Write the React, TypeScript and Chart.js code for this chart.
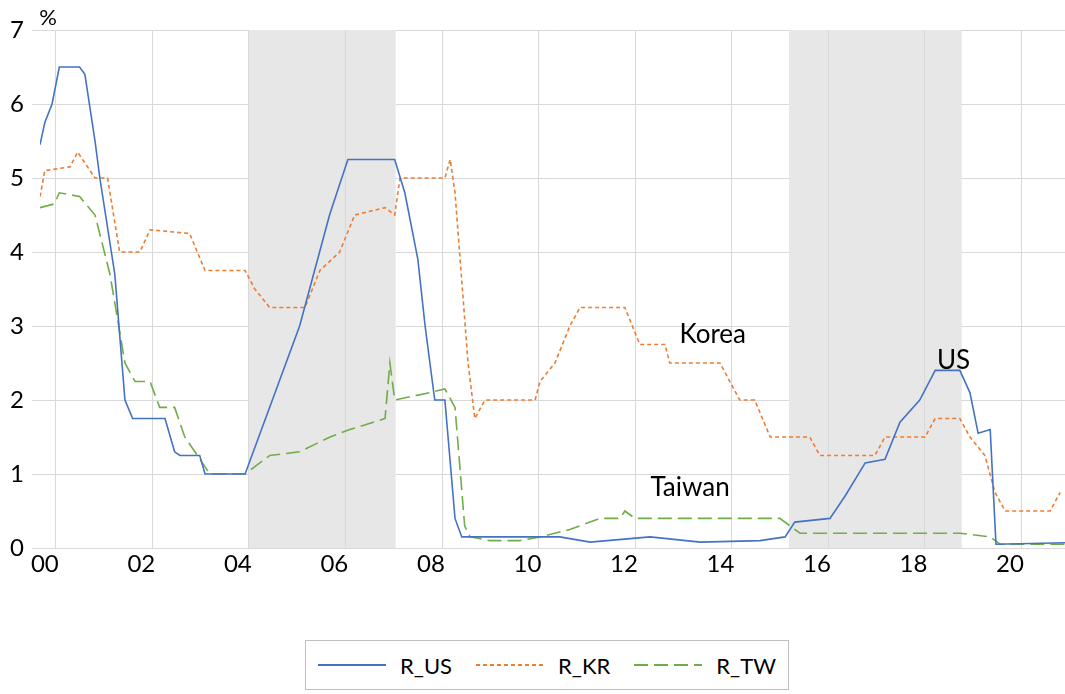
import { useEffect, useRef } from "react";
import { Chart, registerables } from "chart.js";

Chart.register(...registerables);

// breakpoints (year, %)
const usYears = [1999.9, 2000, 2000.15, 2000.3, 2000.5, 2000.72, 2000.83, 2001.04, 2001.14, 2001.45, 2001.66, 2001.82, 2002.49, 2002.69, 2002.8, 2003.21, 2003.32, 2004.15, 2005.28, 2005.9, 2006.28, 2007.25, 2007.46, 2007.73, 2007.88, 2008.08, 2008.29, 2008.5, 2008.64, 2009.43, 2009.84, 2010.67, 2011.3, 2012.54, 2013.58, 2014.82, 2015.34, 2015.54, 2016.27, 2016.58, 2017.0, 2017.41, 2017.72, 2018.13, 2018.45, 2018.96, 2019.17, 2019.34, 2019.59, 2019.71, 2021.14];
const usRate = [5.45, 5.75, 6.0, 6.5, 6.5, 6.5, 6.4, 5.5, 5.0, 3.7, 2.0, 1.75, 1.75, 1.3, 1.25, 1.25, 1.0, 1.0, 3.0, 4.5, 5.25, 5.25, 4.8, 3.9, 3.0, 2.0, 2.0, 0.4, 0.15, 0.15, 0.15, 0.15, 0.08, 0.15, 0.08, 0.1, 0.15, 0.35, 0.4, 0.7, 1.15, 1.2, 1.7, 2.0, 2.4, 2.4, 2.1, 1.55, 1.6, 0.05, 0.07];

const krYears = [1999.9, 2000, 2000.52, 2000.68, 2001.04, 2001.3, 2001.55, 2001.97, 2002.18, 2003.0, 2003.32, 2004.15, 2004.35, 2004.66, 2005.39, 2005.7, 2006.11, 2006.42, 2007.05, 2007.25, 2007.36, 2008.29, 2008.4, 2008.5, 2008.77, 2008.91, 2009.12, 2010.16, 2010.26, 2010.57, 2010.88, 2011.09, 2012.02, 2012.33, 2012.85, 2012.95, 2013.99, 2014.4, 2014.71, 2015.03, 2015.85, 2016.06, 2017.2, 2017.41, 2018.24, 2018.45, 2018.96, 2019.17, 2019.48, 2019.69, 2019.9, 2020.83, 2021.04];
const krRate = [4.75, 5.1, 5.15, 5.35, 5.0, 5.0, 4.0, 4.0, 4.3, 4.25, 3.75, 3.75, 3.5, 3.25, 3.25, 3.75, 4.0, 4.5, 4.6, 4.5, 5.0, 5.0, 5.25, 4.8, 2.5, 1.75, 2.0, 2.0, 2.25, 2.5, 3.0, 3.25, 3.25, 2.75, 2.75, 2.5, 2.5, 2.0, 2.0, 1.5, 1.5, 1.25, 1.25, 1.5, 1.5, 1.75, 1.75, 1.5, 1.25, 0.75, 0.5, 0.5, 0.75];

const twYears = [1999.9, 2000.2, 2000.3, 2000.72, 2001.04, 2001.35, 2001.66, 2001.87, 2002.18, 2002.38, 2002.69, 2002.9, 2003.11, 2003.42, 2004.15, 2004.66, 2005.28, 2005.91, 2006.32, 2007.05, 2007.15, 2007.25, 2007.98, 2008.29, 2008.5, 2008.7, 2008.81, 2009.22, 2009.84, 2010.26, 2010.88, 2011.5, 2011.92, 2012.02, 2012.23, 2015.23, 2015.65, 2018.96, 2019.59, 2019.8, 2021.14];
const twRate = [4.6, 4.65, 4.8, 4.75, 4.5, 3.7, 2.5, 2.25, 2.25, 1.9, 1.9, 1.5, 1.3, 1.0, 1.0, 1.25, 1.3, 1.5, 1.6, 1.75, 2.5, 2.0, 2.1, 2.15, 1.9, 0.3, 0.15, 0.1, 0.1, 0.15, 0.25, 0.4, 0.4, 0.5, 0.4, 0.4, 0.2, 0.2, 0.15, 0.05, 0.05];

const tickYears = [2000, 2002, 2004, 2006, 2008, 2010, 2012, 2014, 2016, 2018, 2020];
const shadeStart = [2004.23, 2015.42];
const shadeEnd = [2007.27, 2019.0];
const labelText = ["Korea", "US", "Taiwan"];
const labelX = [2013.84, 2018.83, 2013.37];
const labelY = [2.88, 2.53, 0.81];

const FONT = "Lato, 'Open Sans', sans-serif";

const pts = (xs: number[], ys: number[]) => xs.map((x, i) => ({ x, y: ys[i] }));

const overlay = {
  id: "overlay",
  beforeDatasetsDraw(chart: any) {
    const { ctx, chartArea, scales } = chart;
    ctx.save();
    ctx.fillStyle = "#e7e7e7";
    shadeStart.forEach((s, i) => {
      const a = scales.x.getPixelForValue(s);
      const b = scales.x.getPixelForValue(shadeEnd[i]);
      ctx.fillRect(a, chartArea.top, b - a, chartArea.bottom - chartArea.top);
    });
    ctx.strokeStyle = "#d9d9d9";
    ctx.lineWidth = 1;
    tickYears.forEach((t) => {
      const x = Math.round(scales.x.getPixelForValue(t + 0.22)) + 0.5;
      ctx.beginPath();
      ctx.moveTo(x, chartArea.top);
      ctx.lineTo(x, chartArea.bottom);
      ctx.stroke();
    });
    ctx.restore();
  },
  afterDatasetsDraw(chart: any) {
    const { ctx, scales } = chart;
    ctx.save();
    ctx.fillStyle = "#000";
    ctx.font = `26px ${FONT}`;
    ctx.textAlign = "center";
    ctx.textBaseline = "middle";
    labelText.forEach((t, i) => {
      ctx.fillText(t, scales.x.getPixelForValue(labelX[i]), scales.y.getPixelForValue(labelY[i]));
    });
    ctx.font = `22px ${FONT}`;
    ctx.fillText("%", 48, 18);
    ctx.restore();
  },
};

export default function App() {
  const ref = useRef<HTMLCanvasElement | null>(null);

  useEffect(() => {
    if (!ref.current) return;
    const chart = new Chart(ref.current, {
      type: "line",
      data: {
        datasets: [
          { label: "R_US", data: pts(usYears, usRate), borderColor: "#4472C4", borderWidth: 1.6 },
          { label: "R_KR", data: pts(krYears, krRate), borderColor: "#ED7D31", borderWidth: 1.6, borderDash: [4, 3] },
          { label: "R_TW", data: pts(twYears, twRate), borderColor: "#70AD47", borderWidth: 1.6, borderDash: [14, 6] },
        ],
      },
      options: {
        animation: false,
        responsive: false,
        elements: { point: { radius: 0 }, line: { tension: 0 } },
        layout: { padding: { top: 30, right: 0, left: 0, bottom: 0 } },
        plugins: { legend: { display: false }, tooltip: { enabled: false } },
        scales: {
          x: {
            type: "linear",
            min: 1999.9,
            max: 2021.14,
            afterBuildTicks: (axis: any) => {
              axis.ticks = tickYears.map((v) => ({ value: v }));
            },
            afterFit: (axis: any) => {
              axis.height = 48;
            },
            grid: { display: false },
            border: { display: false },
            ticks: {
              color: "#000",
              font: { size: 24, family: FONT },
              padding: -6,
              maxRotation: 0,
              callback: (v: any) => String(Number(v) % 100).padStart(2, "0"),
            },
          },
          y: {
            min: 0,
            max: 7,
            afterFit: (axis: any) => {
              axis.width = 40;
            },
            grid: { color: "#d9d9d9" },
            border: { display: false },
            ticks: { stepSize: 1, color: "#000", font: { size: 24, family: FONT }, padding: 8 },
          },
        },
      },
      plugins: [overlay],
    });
    return () => chart.destroy();
  }, []);

  const legend = [
    { name: "R_US", color: "#4472C4", dash: "" },
    { name: "R_KR", color: "#ED7D31", dash: "4 3" },
    { name: "R_TW", color: "#70AD47", dash: "14 6" },
  ];

  return (
    <div style={{ position: "absolute", left: 0, top: 0, width: 1065, height: 694, background: "#fff" }}>
      <canvas ref={ref} width={1065} height={596} style={{ display: "block" }} />
      <div
        style={{
          position: "absolute", left: 305, top: 640, width: 484, height: 50,
          border: "1px solid #bfbfbf", display: "flex", alignItems: "center",
          justifyContent: "space-around", fontFamily: FONT, fontSize: 22, boxSizing: "border-box",
        }}
      >
        {legend.map((l) => (
          <div key={l.name} style={{ display: "flex", alignItems: "center", gap: 14 }}>
            <svg width={68} height={6}>
              <line x1={0} y1={3} x2={68} y2={3} stroke={l.color} strokeWidth={2} strokeDasharray={l.dash} />
            </svg>
            <span>{l.name}</span>
          </div>
        ))}
      </div>
    </div>
  );
}
